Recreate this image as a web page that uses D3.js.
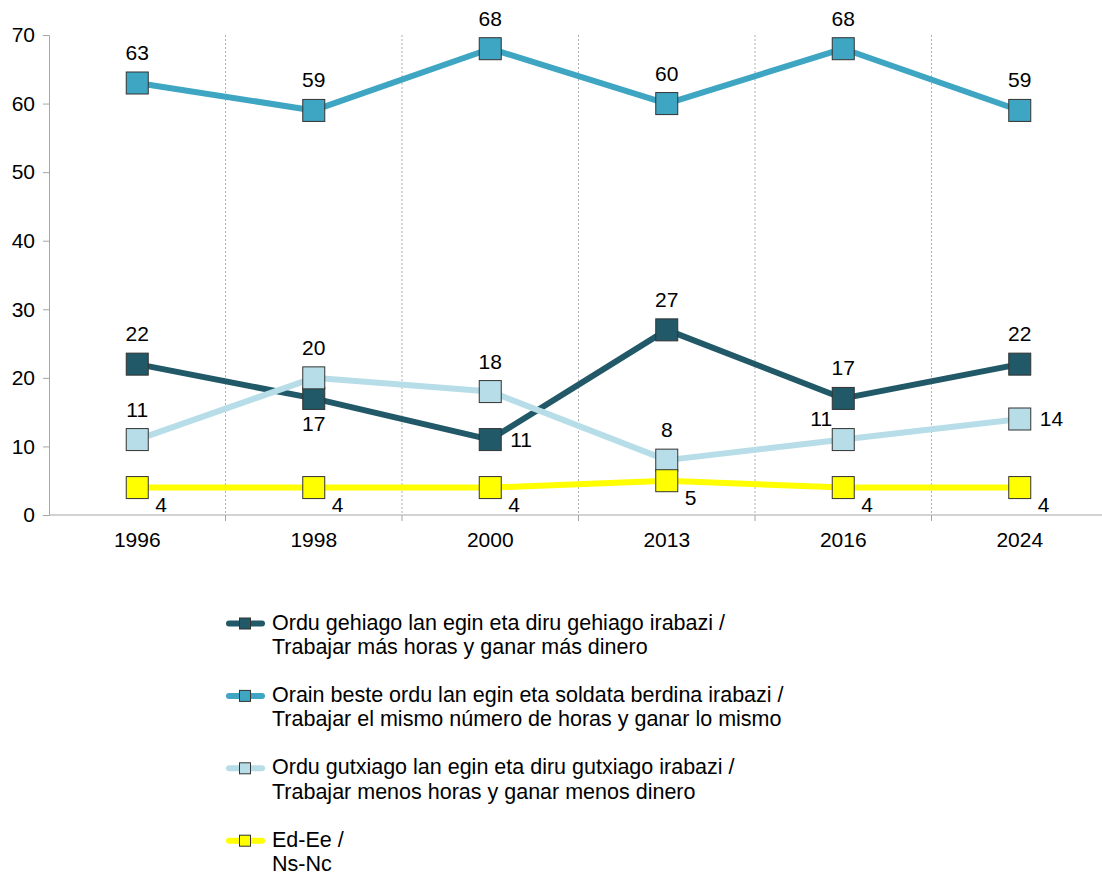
<!DOCTYPE html>
<html>
<head>
<meta charset="utf-8">
<script src="https://cdn.jsdelivr.net/npm/d3@7"></script>
<style>
  html, body { margin: 0; padding: 0; background: #fff; }
  svg { display: block; font-family: "Liberation Sans", Arial, sans-serif; }
</style>
</head>
<body>
<svg id="chart" width="1102" height="875"></svg>
<script>
const years = ["1996", "1998", "2000", "2013", "2016", "2024"];
const yTicks = [0, 10, 20, 30, 40, 50, 60, 70];

const seriesNames = [
  ["Ordu gehiago lan egin eta diru gehiago irabazi /", "Trabajar más horas y ganar más dinero"],
  ["Orain beste ordu lan egin eta soldata berdina irabazi /", "Trabajar el mismo número de horas y ganar lo mismo"],
  ["Ordu gutxiago lan egin eta diru gutxiago irabazi /", "Trabajar menos horas y ganar menos dinero"],
  ["Ed-Ee /", "Ns-Nc"]
];
const masValues = [22, 17, 11, 27, 17, 22];
const mismoValues = [63, 59, 68, 60, 68, 59];
const menosValues = [11, 20, 18, 8, 11, 14];
const nsncValues = [4, 4, 4, 5, 4, 4];
const seriesColors = ["#215968", "#3EA5C2", "#B7DEE8", "#FFFF00"];
// label placement per point: a = above, b = below, r = right, br = below-right, al = above-left
const masPos = ["a", "b", "r", "a", "a", "a"];
const mismoPos = ["a", "a", "a", "a", "a", "a"];
const menosPos = ["a", "a", "a", "a", "al", "r"];
const nsncPos = ["br", "br", "br", "br", "br", "br"];

const series = [
  { name: seriesNames[0], values: masValues, color: seriesColors[0], pos: masPos },
  { name: seriesNames[1], values: mismoValues, color: seriesColors[1], pos: mismoPos },
  { name: seriesNames[2], values: menosValues, color: seriesColors[2], pos: menosPos },
  { name: seriesNames[3], values: nsncValues, color: seriesColors[3], pos: nsncPos }
];

const svg = d3.select("#chart");
const pLeft = 49, pRight = 1108, pTop = 35, pBottom = 515;
const fs = 21;

const xBand = d3.scaleBand().domain(years).range([pLeft, pRight]).padding(0);
const xc = d => xBand(d) + xBand.bandwidth() / 2;
const y = d3.scaleLinear().domain([0, 70]).range([pBottom, pTop]);

const axisColor = "#a6a6a6";

// vertical gridlines at category boundaries
const bounds = years.slice(1).map(d => xBand(d));
svg.append("g").selectAll("line").data(bounds).join("line")
  .attr("x1", d => d).attr("x2", d => d)
  .attr("y1", pTop).attr("y2", pBottom)
  .attr("stroke", "#b0b0b0").attr("stroke-width", 1)
  .attr("stroke-dasharray", "2,2");

// y axis
const yAxis = svg.append("g").attr("transform", `translate(${pLeft},0)`)
  .call(d3.axisLeft(y).tickValues(yTicks).tickSize(6).tickPadding(8));
yAxis.select(".domain").attr("stroke", axisColor);
yAxis.selectAll(".tick line").attr("stroke", axisColor);
yAxis.selectAll(".tick text").attr("font-size", fs).attr("fill", "#000")
  .attr("font-family", "Liberation Sans, Arial, sans-serif");

// x axis
const xAxisG = svg.append("g").attr("transform", `translate(0,${pBottom})`);
xAxisG.append("line").attr("x1", pLeft).attr("x2", 1102).attr("y1", 0).attr("y2", 0)
  .attr("stroke", axisColor);
xAxisG.selectAll("line.tk").data(bounds).join("line").attr("class", "tk")
  .attr("x1", d => d).attr("x2", d => d).attr("y1", 0).attr("y2", 6)
  .attr("stroke", axisColor);
xAxisG.selectAll("text").data(years).join("text")
  .attr("x", d => xc(d)).attr("y", 32)
  .attr("text-anchor", "middle").attr("font-size", fs).attr("fill", "#000")
  .text(d => d);

// lines
const line = d3.line().x((v, i) => xc(years[i])).y(v => y(v));
series.forEach(s => {
  svg.append("path").datum(s.values)
    .attr("d", line).attr("fill", "none")
    .attr("stroke", s.color).attr("stroke-width", 6)
    .attr("stroke-linejoin", "round");
});

// markers
const ms = 22;
series.forEach(s => {
  svg.append("g").selectAll("rect").data(s.values).join("rect")
    .attr("x", (v, i) => xc(years[i]) - ms / 2)
    .attr("y", v => y(v) - ms / 2)
    .attr("width", ms).attr("height", ms)
    .attr("fill", s.color).attr("stroke", "#333").attr("stroke-width", 1);
});

// data labels
const offsets = {
  a: { dx: 0, dy: -23, anchor: "middle" },
  b: { dx: 0, dy: 33, anchor: "middle" },
  r: { dx: 20, dy: 7, anchor: "start" },
  br: { dx: 18, dy: 24, anchor: "start" },
  al: { dx: -22, dy: -14, anchor: "middle" }
};
series.forEach(s => {
  svg.append("g").selectAll("text").data(s.values).join("text")
    .attr("x", (v, i) => xc(years[i]) + offsets[s.pos[i]].dx)
    .attr("y", (v, i) => y(v) + offsets[s.pos[i]].dy)
    .attr("text-anchor", (v, i) => offsets[s.pos[i]].anchor)
    .attr("font-size", fs).attr("fill", "#000")
    .text(v => v);
});

// legend
const legendX = 227, legendY0 = 623.5, legendStep = 72.4;
series.forEach((s, i) => {
  const g = svg.append("g").attr("transform", `translate(${legendX},${legendY0 + i * legendStep})`);
  g.append("line").attr("x1", 2).attr("x2", 35).attr("y1", 0).attr("y2", 0)
    .attr("stroke", s.color).attr("stroke-width", 6).attr("stroke-linecap", "round");
  g.append("rect").attr("x", 12.5).attr("y", -5.5).attr("width", 11).attr("height", 11)
    .attr("fill", s.color).attr("stroke", "#333").attr("stroke-width", 1);
  s.name.forEach((t, k) => {
    g.append("text").attr("x", 45).attr("y", 6 + k * 24.5)
      .attr("font-size", 21.5).attr("fill", "#000").text(t);
  });
});
</script>
</body>
</html>
